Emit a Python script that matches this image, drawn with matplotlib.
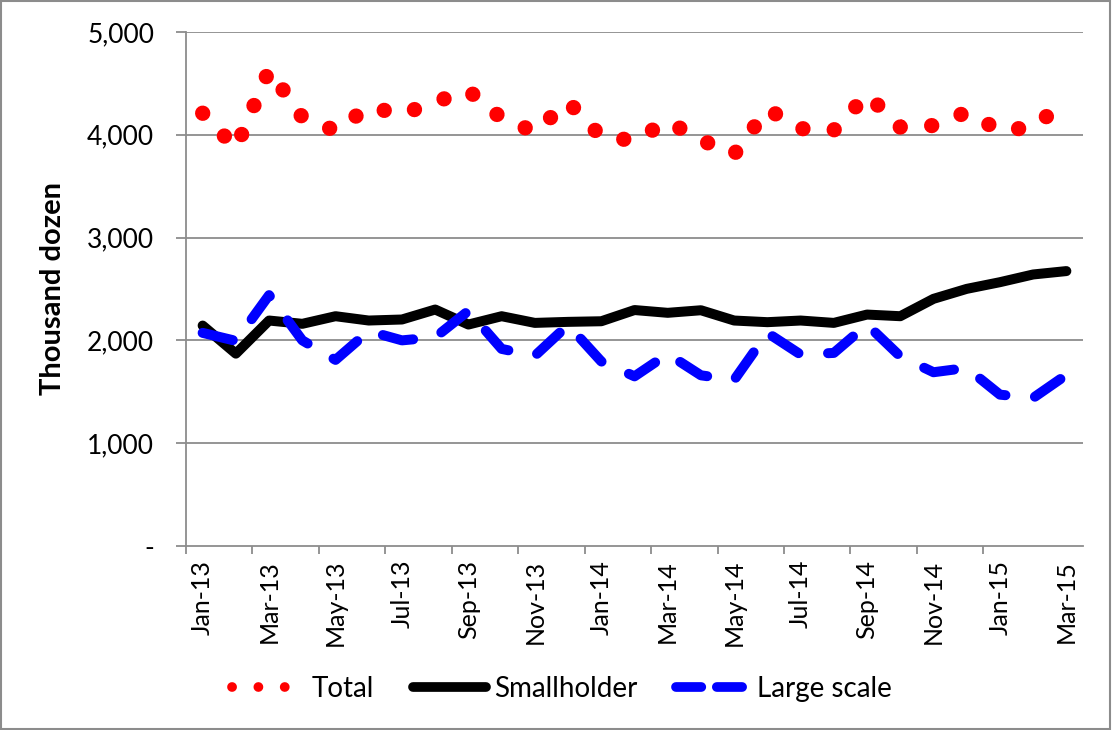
import matplotlib
matplotlib.use("Agg")
import matplotlib.pyplot as plt
from matplotlib.lines import Line2D
from matplotlib.patches import Rectangle
from matplotlib.ticker import FixedLocator, FuncFormatter

months = ["Jan-13", "Feb-13", "Mar-13", "Apr-13", "May-13", "Jun-13", "Jul-13",
          "Aug-13", "Sep-13", "Oct-13", "Nov-13", "Dec-13", "Jan-14", "Feb-14",
          "Mar-14", "Apr-14", "May-14", "Jun-14", "Jul-14", "Aug-14", "Sep-14",
          "Oct-14", "Nov-14", "Dec-14", "Jan-15", "Feb-15", "Mar-15"]
total = [4210, 3870, 4630, 4170, 4040, 4270, 4200, 4320, 4430, 4160, 4030, 4320,
         3980, 3945, 4130, 3950, 3810, 4250, 4060, 4045, 4390, 4075, 4090, 4220,
         4040, 4075, 4330]
smallholder = [2144, 1871, 2193, 2161, 2235, 2193, 2203, 2300, 2154, 2235, 2170,
               2180, 2186, 2295, 2268, 2293, 2193, 2177, 2193, 2170, 2251, 2235,
               2404, 2501, 2566, 2641, 2674]
large_scale = [2073, 1995, 2440, 2000, 1810, 2090, 2000, 2030, 2287, 1917, 1850,
               2150, 1795, 1650, 1868, 1660, 1615, 2073, 1862, 1878, 2154, 1844,
               1690, 1732, 1472, 1440, 1664]
y_ticks = [0, 1000, 2000, 3000, 4000, 5000]

plt.rcParams['font.family'] = ['Lato', 'DejaVu Sans']

fig = plt.figure(figsize=(11.12, 7.3), dpi=100)
fig.patches.append(Rectangle((0.001, 0.001), 0.997, 0.997, transform=fig.transFigure,
                             fill=False, edgecolor='#8c8c8c', linewidth=1.5))
ax = fig.add_axes([0.1673, 0.2521, 0.8066, 0.7041])

x = list(range(len(months)))
grid_c = '#8c8c8c'
for yv in y_ticks[1:]:
    ax.axhline(yv, color=grid_c, linewidth=1.3, zorder=0)

ax.plot(x, smallholder, color='black', linewidth=7.2, solid_capstyle='round',
        solid_joinstyle='round', zorder=3)
ax.plot(x, large_scale, color='#0000ff', linewidth=7.2, linestyle=(0, (3.1, 3.0)),
        dash_capstyle='round', dash_joinstyle='round', zorder=4)
ax.plot(x, total, color='#ff0000', linewidth=11, linestyle=(0, (0.01, 2.05)),
        dash_capstyle='round', zorder=5)

ax.set_xlim(-0.5, len(months) - 0.5)
ax.set_ylim(0, 5000)

for s in ['top', 'right']:
    ax.spines[s].set_visible(False)
for s in ['left', 'bottom']:
    ax.spines[s].set_color(grid_c)
    ax.spines[s].set_linewidth(1.3)

ax.yaxis.set_major_locator(FixedLocator(y_ticks))
ax.yaxis.set_major_formatter(FuncFormatter(lambda v, p: '-' if v == 0 else f'{int(v):,}'))
ax.tick_params(axis='y', direction='out', length=7, width=1.3, color=grid_c,
               labelsize=19, pad=16)

ax.xaxis.set_major_locator(FixedLocator([i - 0.5 for i in range(0, len(months) - 1, 2)]))
ax.xaxis.set_major_formatter(FuncFormatter(lambda v, p: ''))
ax.xaxis.set_minor_locator(FixedLocator(list(range(0, len(months), 2))))
ax.set_xticklabels([months[i] for i in range(0, len(months), 2)], minor=True,
                   rotation=90, fontsize=18)
ax.tick_params(axis='x', which='major', direction='out', length=6, width=1.3, color=grid_c)
ax.tick_params(axis='x', which='minor', length=0, pad=10)

ax.set_ylabel('Thousand dozen', fontsize=21, fontweight='bold')
ax.yaxis.set_label_coords(-0.134, 0.5)

handles = [
    Line2D([], [], color='#ff0000', linewidth=7, linestyle=(0, (0.01, 2.7)),
           dash_capstyle='round'),
    Line2D([], [], color='black', linewidth=7, solid_capstyle='round'),
    Line2D([], [], color='#0000ff', linewidth=7, linestyle=(0, (2.6, 1.6)),
           dash_capstyle='round'),
]
fig.legend(handles, ['Total', 'Smallholder', 'Large scale'], loc='center',
           bbox_to_anchor=(0.505, 0.056), ncol=3, frameon=False, fontsize=20,
           handlelength=2.6, handletextpad=0.3, columnspacing=1.4)

fig.savefig('out.png', dpi=100)
